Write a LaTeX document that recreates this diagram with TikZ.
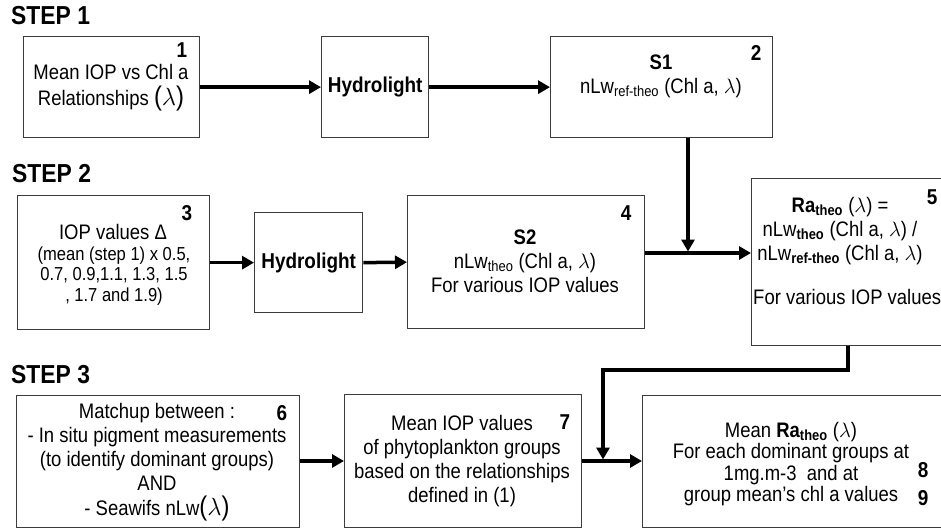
\documentclass[tikz,border=0pt]{standalone}
\usepackage{fontspec}
\setmainfont{Liberation Sans}[FakeStretch=0.88]
\usetikzlibrary{arrows.meta}
\definecolor{bordergray}{HTML}{3C3C3C}
\newcommand{\biglam}{{\fontsize{27}{27}\selectfont($\lambda$)}}
\begin{document}
\begin{tikzpicture}[x=1pt,y=-1pt,
  box/.style={draw=bordergray, line width=1.3pt, inner sep=0, anchor=north west},
  arr/.style={line width=3.5pt, -{Triangle[length=12pt,width=13pt]}},
  txt/.style={align=center, font=\fontsize{21}{24}\selectfont, inner sep=0},
  small/.style={align=center, font=\fontsize{18.8}{20.5}\selectfont, inner sep=0},
  num/.style={font=\bfseries\fontsize{21.5}{21.5}\selectfont, inner sep=0},
  head/.style={font=\bfseries\fontsize{26}{26}\selectfont, anchor=base west, inner sep=0},
  hyd/.style={font=\bfseries\fontsize{21.5}{21.5}\selectfont, inner sep=0}]
\useasboundingbox (0,0) rectangle (941,529);

% headings
\node[head] (h1) at (11,25) {STEP 1};
\node[head] (h2) at (12,183) {STEP 2};
\node[head] (h3) at (11,383) {STEP 3};

% boxes
\node[box, minimum width=176, minimum height=101] (b1) at (23,36) {};
\node[box, minimum width=107, minimum height=101] (hyd1) at (321,36) {};
\node[box, minimum width=222, minimum height=101] (s1) at (550,36) {};
\node[box, minimum width=192, minimum height=134] (b3) at (17,195) {};
\node[box, minimum width=108, minimum height=100] (hyd2) at (254,212) {};
\node[box, minimum width=237, minimum height=133] (s2) at (407,195) {};
\node[box, minimum width=200, minimum height=167] (ra) at (751,178) {};
\node[box, minimum width=283, minimum height=132] (b6) at (16,395) {};
\node[box, minimum width=237, minimum height=133] (b7) at (344,394) {};
\node[box, minimum width=310, minimum height=132] (b8) at (642,395) {};

% texts
\node[txt] (t1) at (111,88) {Mean IOP vs Chl a\\[2pt] Relationships \biglam};
\node[hyd] (th1) at (hyd1.center) {Hydrolight};
\node[txt] (ts1) at (661,76) {\textbf{S1}\\ nLw\textsubscript{ref-theo} (Chl a, $\lambda$)};
\node[txt] (t3a) at (113,232) {IOP values Δ};
\node[small] (t3b) at (114,276) {(mean (step 1) x 0.5,\\ 0.7, 0.9,1.1, 1.3, 1.5\\ , 1.7 and 1.9)};
\node[hyd] (th2) at (hyd2.center) {Hydrolight};
\node[txt] (ts2) at (525,261) {\textbf{S2}\\ nLw\textsubscript{theo} (Chl a, $\lambda$)\\ For various IOP values};
\node[txt] (tra) at (840,231) {\textbf{Ra\textsubscript{theo}} ($\lambda$) =\\ nLw\textsubscript{\textbf{theo}} (Chl a, $\lambda$) /\\ nLw\textsubscript{\textbf{ref-theo}} (Chl a, $\lambda$)};
\node[txt, anchor=west] (tra2) at (753,297) {For various IOP values};
\node[txt] (t6) at (157,462) {Matchup between :\\ - In situ pigment measurements\\ (to identify dominant groups)\\ AND\\[1pt] - Seawifs nLw\biglam};
\node[txt] (t7) at (462,461) {Mean IOP values\\ of phytoplankton groups\\ based on the relationships\\ defined in (1)};
\node[txt, font=\fontsize{21}{21.5}\selectfont] (t8) at (791,464) {Mean \textbf{Ra\textsubscript{theo}} ($\lambda$)\\ For each dominant groups at\\ 1mg.m-3~ and at\\ group mean’s chl a values};

% numbers
\node[num] (n1) at (182,50) {1};
\node[num] (n2) at (756,53) {2};
\node[num] (n3) at (187,213) {3};
\node[num] (n4) at (626,213) {4};
\node[num] (n5) at (932,197) {5};
\node[num] (n6) at (282,413) {6};
\node[num] (n7) at (565,422) {7};
\node[num] (n8) at (923,470) {8};
\node[num] (n9) at (923,498) {9};

% connectors
\draw[arr] (b1.east) -- (hyd1.west);
\draw[arr] (hyd1.east) -- (s1.west);
\coordinate (j1) at (688,253);
\draw[arr, shorten >=1.5pt] (s1.south -| j1) -- (j1);
\draw[arr] (s2.east |- j1) -- (ra.west |- j1);
\draw[arr] (b3.east) -- (hyd2.west);
\draw[arr] (hyd2.east) -- (s2.west);
\coordinate (k1) at (848,370);
\coordinate (j2) at (603,461);
\draw[arr, shorten >=1.5pt] (ra.south -| k1) -- (k1) -| (j2);
\draw[arr] (b6.east |- j2) -- (b7.west |- j2);
\draw[arr] (b7.east |- j2) -- (b8.west |- j2);
\end{tikzpicture}
\end{document}
